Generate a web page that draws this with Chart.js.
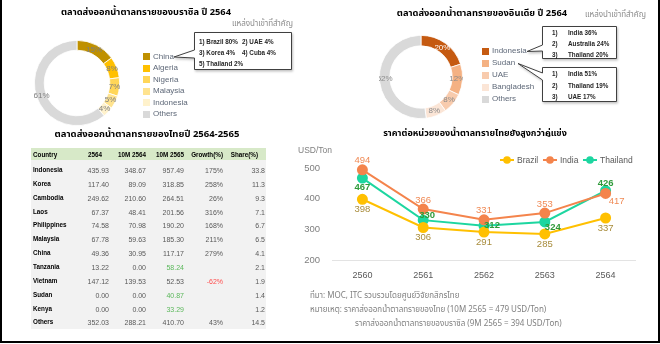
<!DOCTYPE html>
<html>
<head>
<meta charset="utf-8">
<script src="https://cdn.jsdelivr.net/npm/chart.js@4.4.1/dist/chart.umd.min.js"></script>
<style>
  html, body { margin: 0; padding: 0; background: #fff; }
  #page { position: relative; width: 660px; height: 344px; overflow: hidden; background: #fff;
          font-family: "Liberation Sans", "Noto Sans", sans-serif; }
  .t { position: absolute; white-space: nowrap; line-height: 1; }
  .frame { position: absolute; left: 0; top: -2px; width: 656px; height: 343px;
           border-left: 2px solid #000; border-right: 2px solid #000; border-bottom: 2px solid #000; }
  canvas { position: absolute; }
  svg.overlay { position: absolute; left: 0; top: 0; }
</style>
</head>
<body>
<div id="page">
  <canvas id="brazilDonut" width="86" height="86" style="left:34px;top:40px;width:86px;height:86px"></canvas>
  <canvas id="indiaDonut" width="84" height="84" style="left:379px;top:35px;width:84px;height:84px"></canvas>
  <canvas id="priceChart" width="360" height="145" style="left:290px;top:140px;width:360px;height:145px"></canvas>
  <svg class="overlay" id="ov" width="660" height="344"></svg>
  <div class="frame"></div>
</div>
<script>
// ---- Brazil export markets 2564 (%) ----
const brazilMarkets = ['China', 'Algeria', 'Nigeria', 'Malaysia', 'Indonesia', 'Others'];
const brazilShare = [15, 8, 7, 5, 4, 61];
const brazilColors = ['#BF9000', '#FFC000', '#FFD658', '#FFE38F', '#FFF2CC', '#D9D9D9'];

// ---- India export markets 2564 (%) ----
const indiaMarkets = ['Indonesia', 'Sudan', 'UAE', 'Bangladesh', 'Others'];
const indiaShare = [20, 12, 8, 8, 52];
const indiaColors = ['#C55A11', '#F4B183', '#F8CBAD', '#FBE5D6', '#D9D9D9'];
const indiaLabelColors = ['#FFFFFF', '#8C8C8C', '#8C8C8C', '#8C8C8C', '#8C8C8C'];

// ---- Thai export table ----
const tableHeaders = ['Country', '2564', '10M 2564', '10M 2565', 'Growth(%)', 'Share(%)'];
const countries = ['Indonesia', 'Korea', 'Cambodia', 'Laos', 'Philippines', 'Malaysia', 'China',
                   'Tanzania', 'Vietnam', 'Sudan', 'Kenya', 'Others'];
const exports2564 = [435.93, 117.40, 249.62, 67.37, 74.58, 67.78, 49.36, 13.22, 147.12, 0.00, 0.00, 352.03];
const exports10M2564 = [348.67, 89.09, 210.60, 48.41, 70.98, 59.63, 30.95, 0.00, 139.53, 0.00, 0.00, 288.21];
const exports10M2565 = [957.49, 318.85, 264.51, 201.56, 190.20, 185.30, 117.17, 58.24, 52.53, 40.87, 33.29, 410.70];
const growthPct = [175, 258, 26, 316, 168, 211, 279, null, -62, null, null, 43];
const sharePct = [33.8, 11.3, 9.3, 7.1, 6.7, 6.5, 4.1, 2.1, 1.9, 1.4, 1.2, 14.5];

// ---- Export price (USD/Ton) ----
const years = ['2560', '2561', '2562', '2563', '2564'];
const brazilPrice = [398, 306, 291, 285, 337];
const indiaPrice = [494, 366, 331, 353, 417];
const thaiPrice = [467, 330, 312, 324, 426];
const priceTicks = [200, 300, 400, 500];

const page = document.getElementById('page');
const THAI = '"Noto Sans Thai","Noto Sans","DejaVu Sans",sans-serif';
const NUM = '"Liberation Sans","Noto Sans",sans-serif';

function txt(str, x, y, o = {}) {
  const d = document.createElement('div');
  d.className = 't';
  d.textContent = str;
  d.style.left = x + 'px';
  d.style.top = y + 'px';
  d.style.fontSize = (o.size || 8) + 'px';
  d.style.color = o.color || '#000';
  d.style.fontWeight = o.weight || 'normal';
  d.style.fontFamily = o.family || NUM;
  const a = o.align || 'left';
  d.style.transform = a === 'center' ? 'translate(-50%,-50%)' : a === 'right' ? 'translate(-100%,-50%)' : 'translate(0,-50%)';
  page.appendChild(d);
  return d;
}

// ---- titles and notes ----
txt('ตลาดส่งออกน้ำตาลทรายของบราซิล ปี 2564', 146, 13, { size: 9.3, weight: 'bold', align: 'center', family: THAI });
txt('ตลาดส่งออกน้ำตาลทรายของอินเดีย ปี 2564', 482, 14, { size: 9.3, weight: 'bold', align: 'center', family: THAI });
txt('ตลาดส่งออกน้ำตาลทรายของไทยปี 2564-2565', 147, 135, { size: 9.5, weight: 'bold', align: 'center', family: THAI });
txt('ราคาต่อหน่วยของน้ำตาลทรายไทยยังสูงกว่าคู่แข่ง', 475, 133, { size: 9, weight: 'bold', align: 'center', family: THAI });
txt('แหล่งนำเข้าที่สำคัญ', 232, 24, { size: 8, color: '#8C8C8C', family: THAI });
txt('แหล่งนำเข้าที่สำคัญ', 585, 15, { size: 8, color: '#8C8C8C', family: THAI });
txt('USD/Ton', 298, 150, { size: 8.5, color: '#808080' });
txt('ที่มา: MOC, ITC รวบรวมโดยศูนย์วิจัยกสิกรไทย', 310, 296, { size: 8, color: '#808080', family: THAI });
txt('หมายเหตุ: ราคาส่งออกน้ำตาลทรายของไทย (10M 2565 = 479 USD/Ton)', 310, 310, { size: 8, color: '#808080', family: THAI });
txt('ราคาส่งออกน้ำตาลทรายของบราซิล (9M 2565 = 394 USD/Ton)', 355, 324, { size: 8, color: '#808080', family: THAI });

// ---- donut legends ----
function donutLegend(names, colors, x, y0, step) {
  names.forEach((n, i) => {
    const sq = document.createElement('div');
    sq.style.cssText = `position:absolute;left:${x}px;top:${y0 + i * step - 3.5}px;width:7px;height:7px;background:${colors[i]}`;
    page.appendChild(sq);
    txt(n, x + 10, y0 + i * step, { size: 8, color: '#5E6878' });
  });
}
donutLegend(brazilMarkets, brazilColors, 143, 56.5, 11.5);
donutLegend(indiaMarkets, indiaColors, 482, 51, 12);

// ---- callout boxes ----
const ov = document.getElementById('ov');
ov.innerHTML = `
  <defs><filter id="sh" x="-10%" y="-10%" width="130%" height="140%">
    <feDropShadow dx="1" dy="1.5" stdDeviation="0.8" flood-color="#000" flood-opacity="0.25"/></filter></defs>
  <path d="M194.5,32.5 H291.5 V69.5 H194.5 V58 L174,57 L194.5,50 Z" fill="#fff" stroke="#404040" stroke-width="1" filter="url(#sh)"/>
  <path d="M542.5,26.5 H616.5 V58.5 H542.5 V51 L527,51.5 L542.5,45 Z" fill="#fff" stroke="#404040" stroke-width="1" filter="url(#sh)"/>
  <path d="M542.5,67.5 H616.5 V101.5 H542.5 V80 L518,63.5 L542.5,73 Z" fill="#fff" stroke="#404040" stroke-width="1" filter="url(#sh)"/>
`;
const CB = { size: 6.3, color: '#262626', weight: 'bold' };
txt('1) Brazil 80%', 199, 41.5, CB); txt('2) UAE 4%', 242, 41.5, CB);
txt('3) Korea 4%', 199, 52.5, CB); txt('4)  Cuba 4%', 242, 52.5, CB);
txt('5) Thailand 2%', 199, 63.5, CB);
[['1)', 'India 36%'], ['2)', 'Australia 24%'], ['3)', 'Thailand 20%']].forEach((r, i) => {
  txt(r[0], 552, 32.5 + i * 11, CB); txt(r[1], 568, 32.5 + i * 11, CB);
});
[['1)', 'India 51%'], ['2)', 'Thailand 19%'], ['3)', 'UAE 17%']].forEach((r, i) => {
  txt(r[0], 552, 74 + i * 11.5, CB); txt(r[1], 568, 74 + i * 11.5, CB);
});

// ---- price chart legend ----
const legendItems = [['Brazil', '#FFC000', 507], ['India', '#F4844C', 550], ['Thailand', '#1DD6A0', 590]];
legendItems.forEach(([name, col, cx]) => {
  ov.innerHTML += `<line x1="${cx - 7}" y1="160" x2="${cx + 7}" y2="160" stroke="${col}" stroke-width="2"/>
                   <circle cx="${cx}" cy="160" r="3.8" fill="${col}"/>`;
  txt(name, cx + 10, 160, { size: 8.5, color: '#595959' });
});

// ---- Thai export table ----
const tX = 31, tW = 235;
const hdr = document.createElement('div');
hdr.style.cssText = `position:absolute;left:${tX}px;top:148px;width:${tW}px;height:12px;background:#D7E9C8`;
page.appendChild(hdr);
const bodyBg = document.createElement('div');
bodyBg.style.cssText = `position:absolute;left:${tX}px;top:160px;width:${tW}px;height:169px;background:#F2F2F2`;
page.appendChild(bodyBg);
const hdrRight = [null, 102, 146, 184, 223, 258];
tableHeaders.forEach((h, c) => {
  if (c === 0) txt(h, 33, 154.5, { size: 6.3, weight: 'bold' });
  else txt(h, hdrRight[c], 154.5, { size: 6.3, weight: 'bold', align: 'right' });
});
const colRight = [109, 146, 184, 223, 265];
countries.forEach((name, r) => {
  const y = 170 + r * 13.85;
  const G = { size: 7, color: '#595959', align: 'right' };
  txt(name, 33, y, { size: 6.3, weight: 'bold' });
  txt(exports2564[r].toFixed(2), colRight[0], y, G);
  txt(exports10M2564[r].toFixed(2), colRight[1], y, G);
  txt(exports10M2565[r].toFixed(2), colRight[2], y, Object.assign({}, G, growthPct[r] === null ? { color: '#5CB85C' } : {}));
  if (growthPct[r] !== null) {
    txt(growthPct[r] + '%', colRight[3], y, Object.assign({}, G, growthPct[r] < 0 ? { color: '#FF4D4D' } : {}));
  }
  txt(sharePct[r].toFixed(1), colRight[4], y, G);
});

// ---- donut charts ----
const donutLabels = {
  id: 'donutLabels',
  afterDatasetsDraw(chart, args, opts) {
    const { ctx } = chart;
    const ds = chart.data.datasets[0];
    chart.getDatasetMeta(0).data.forEach((arc, i) => {
      const mid = (arc.startAngle + arc.endAngle) / 2;
      const r = (arc.innerRadius + arc.outerRadius) / 2;
      ctx.save();
      ctx.font = '8px ' + NUM;
      ctx.fillStyle = (opts.colors && opts.colors[i]) || '#7F7F7F';
      ctx.textAlign = 'center';
      ctx.textBaseline = 'middle';
      ctx.fillText(ds.data[i] + '%', arc.x + Math.cos(mid) * r, arc.y + Math.sin(mid) * r);
      ctx.restore();
    });
  }
};
function donut(id, labels, data, colors, cutout, labelColors) {
  return new Chart(document.getElementById(id), {
    type: 'doughnut',
    data: { labels, datasets: [{ data, backgroundColor: colors, borderColor: '#fff', borderWidth: 0.8 }] },
    options: {
      responsive: false, animation: false, cutout,
      layout: { padding: 0 },
      plugins: { legend: { display: false }, tooltip: { enabled: false }, donutLabels: { colors: labelColors } }
    },
    plugins: [donutLabels]
  });
}
donut('brazilDonut', brazilMarkets, brazilShare, brazilColors, '77%', null);
donut('indiaDonut', indiaMarkets, indiaShare, indiaColors, '75%', indiaLabelColors);

// ---- price line chart ----
const priceLabels = {
  id: 'priceLabels',
  afterDatasetsDraw(chart) {
    const { ctx } = chart;
    chart.data.datasets.forEach((ds, i) => {
      chart.getDatasetMeta(i).data.forEach((pt, j) => {
        const [dx, dy] = ds.labelOffset[j];
        ctx.save();
        ctx.font = (ds.labelBold ? 'bold ' : '') + '9.5px ' + NUM;
        ctx.fillStyle = ds.labelColor;
        ctx.textAlign = 'center';
        ctx.textBaseline = 'middle';
        ctx.fillText(String(ds.data[j]), pt.x + dx, pt.y + dy);
        ctx.restore();
      });
    });
  }
};
function series(label, data, color, labelColor, labelOffset, labelBold) {
  return { label, data, borderColor: color, backgroundColor: color, pointBackgroundColor: color,
           pointBorderColor: color, pointRadius: 4.5, borderWidth: 2, tension: 0, clip: false,
           labelColor, labelOffset, labelBold };
}
new Chart(document.getElementById('priceChart'), {
  type: 'line',
  data: {
    labels: years,
    datasets: [
      series('Brazil', brazilPrice, '#FFC000', '#A88C3C', [[0, 10], [0, 10], [0, 10], [0, 10], [0, 10]], false),
      series('India', indiaPrice, '#F4844C', '#F08A55', [[0, -9], [0, -9], [0, -9], [0, -9], [11, 8]], false),
      series('Thailand', thaiPrice, '#1DD6A0', '#2F9A3A', [[0, 9], [4, -5], [8, 0], [8, 5], [0, -7]], true)
    ]
  },
  options: {
    responsive: false, animation: false,
    layout: { padding: { top: 28, right: 14, left: 0, bottom: 0 } },
    plugins: { legend: { display: false }, tooltip: { enabled: false } },
    scales: {
      x: {
        offset: true,
        grid: { display: false, drawTicks: false },
        border: { display: false },
        ticks: { color: '#595959', font: { size: 9, family: NUM }, padding: 10 },
        afterFit: s => { s.height = 25; }
      },
      y: {
        min: 200, max: 500,
        afterBuildTicks: s => { s.ticks = priceTicks.map(v => ({ value: v })); },
        grid: { drawTicks: false, color: c => (c.tick && c.tick.value === 200 ? '#E3E3E3' : 'rgba(0,0,0,0)') },
        border: { display: false },
        ticks: { color: '#7F7F7F', font: { size: 9.5, family: NUM }, padding: 12 },
        afterFit: s => { s.width = 42; }
      }
    }
  },
  plugins: [priceLabels]
});
</script>
</body>
</html>
